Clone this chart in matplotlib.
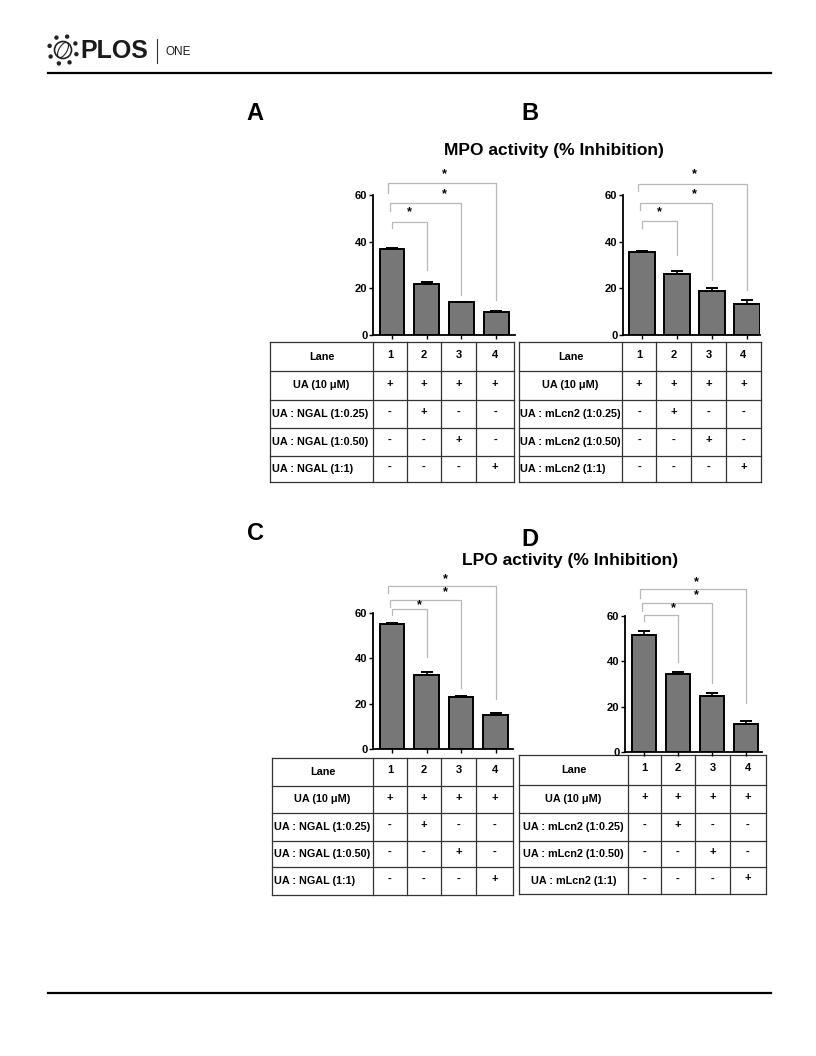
import numpy as np
import matplotlib
matplotlib.use('Agg')
import matplotlib.pyplot as plt
from matplotlib.patches import Circle, Ellipse

plt.rcParams['font.family'] = ['Liberation Sans', 'DejaVu Sans']

# ---- data ----
lanes = [1, 2, 3, 4]
mpo_ngal = [37.0, 22.0, 14.0, 10.0]
mpo_ngal_err = [0.5, 0.7, 0.3, 0.5]
mpo_mlcn2 = [35.5, 26.0, 19.0, 13.5]
mpo_mlcn2_err = [0.7, 1.3, 1.0, 1.3]
lpo_ngal = [55.0, 32.5, 23.0, 15.0]
lpo_ngal_err = [0.5, 1.3, 0.5, 1.0]
lpo_mlcn2 = [51.5, 34.5, 24.5, 12.5]
lpo_mlcn2_err = [2.0, 1.0, 1.5, 1.3]

# brackets: (lane to, top, left leg bottom, right leg bottom, star height, star x)
brk_a = [(2, 48.4, 46, 28, 52.7, 1.5), (3, 56.6, 53, 17, 60.4, 2.5), (4, 65, 61, 15, 69, 2.5)]
brk_b = [(2, 48.9, 46, 34.3, 52.7, 1.5), (3, 56.6, 53.6, 23.6, 60.4, 2.5), (4, 64.7, 61.7, 19.3, 69, 2.5)]
brk_c = [(2, 61.8, 59, 40.6, 63.5, 1.8), (3, 65.7, 62.6, 27, 69.3, 2.55), (4, 71.9, 69, 22, 75, 2.55)]
brk_d = [(2, 60.4, 58, 39.7, 63.5, 1.85), (3, 65.7, 62.4, 30.4, 69.3, 2.55), (4, 71.9, 68, 21.6, 75, 2.55)]

lane_row = ['1', '2', '3', '4']
ua_row = ['+', '+', '+', '+']
r025 = ['-', '+', '-', '-']
r050 = ['-', '-', '+', '-']
r1 = ['-', '-', '-', '+']
labels_ngal = ['Lane', 'UA (10 \u03bcM)', 'UA : NGAL (1:0.25)', 'UA : NGAL (1:0.50)', 'UA : NGAL (1:1)']
labels_mlcn2 = ['Lane', 'UA (10 \u03bcM)', 'UA : mLcn2 (1:0.25)', 'UA : mLcn2 (1:0.50)', 'UA : mLcn2 (1:1)']

W, H = 816, 1056
fig = plt.figure(figsize=(W / 100, H / 100), dpi=100)
ov = fig.add_axes([0, 0, 1, 1])
ov.set_xlim(0, W)
ov.set_ylim(H, 0)
ov.axis('off')

# ---- header / footer ----
ov.plot([48, 771], [73, 73], color='black', lw=1.6)
ov.plot([48, 771], [993, 993], color='black', lw=1.6)
ov.add_patch(Circle((63, 50), 8.5, fill=False, ec='#222222', lw=1.2))
ov.add_patch(Ellipse((63, 50), 8, 17, angle=30, fill=False, ec='#222222', lw=0.8))
for a in np.linspace(0, 2 * np.pi, 9)[:-1]:
    ov.add_patch(Circle((63 + 14 * np.cos(a + 0.3), 50 + 14 * np.sin(a + 0.3)), 1.5, color='#222222'))
ov.text(80, 51, 'PLOS', fontsize=18, fontweight='bold', va='center', ha='left', color='#1a1a1a')
ov.plot([157, 157], [39, 63], color='#333333', lw=0.8)
ov.text(165, 52, 'ONE', fontsize=8.5, va='center', ha='left', color='#1a1a1a')

# ---- panel labels and titles ----
for lab, x, y in [('A', 255, 113), ('B', 530, 113), ('C', 255, 533), ('D', 530, 540)]:
    ov.text(x, y, lab, fontsize=17, fontweight='bold', ha='center', va='center')
ov.text(554, 151, 'MPO activity (% Inhibition)', fontsize=12.5, fontweight='bold', ha='center', va='center')
ov.text(570, 560, 'LPO activity (% Inhibition)', fontsize=12.5, fontweight='bold', ha='center', va='center')


def bar_panel(left, tick1, sp, right, y0, y60, vals, errs, brks):
    ax = fig.add_axes([left / W, 1 - y0 / H, (right - left) / W, (y0 - y60) / H])
    ax.set_facecolor('none')
    ax.bar(lanes, vals, width=0.72, color='#777777', edgecolor='black', linewidth=1.4, zorder=2)
    ax.errorbar(lanes, vals, yerr=[np.zeros(4), errs], fmt='none', ecolor='black',
                elinewidth=1.2, capsize=4, capthick=1.4, zorder=3)
    ax.set_xlim(1 - (tick1 - left) / sp, 1 + (right - tick1) / sp)
    ax.set_ylim(0, 60)
    ax.set_yticks([0, 20, 40, 60])
    ax.set_xticks(lanes)
    ax.set_xticklabels([])
    for s in ['top', 'right']:
        ax.spines[s].set_visible(False)
    for s in ['left', 'bottom']:
        ax.spines[s].set_linewidth(1.3)
    ax.tick_params(length=3, width=1, pad=1, labelsize=8)
    for t in ax.get_yticklabels():
        t.set_fontweight('bold')
    for k, (to, top, lb, rb, sy, sx) in enumerate(brks):
        xl = 1 - 0.06 * k
        ax.plot([xl, xl, to, to], [lb, top, top, rb], color='#b8b8b8', lw=0.9,
                clip_on=False, zorder=1)
        ax.text(sx, sy, '*', fontsize=9, fontweight='bold', ha='center', va='center', clip_on=False)
    return ax


bar_panel(373, 392, 34.7, 515, 335, 195, mpo_ngal, mpo_ngal_err, brk_a)
bar_panel(623, 642, 35.0, 760, 335, 195, mpo_mlcn2, mpo_mlcn2_err, brk_b)
bar_panel(373, 392, 34.5, 513, 749, 613, lpo_ngal, lpo_ngal_err, brk_c)
bar_panel(625, 644, 34.0, 762, 752, 616, lpo_mlcn2, lpo_mlcn2_err, brk_d)


def table(cols, rows, labels, center_all=False):
    rows_data = [lane_row, ua_row, r025, r050, r1]
    for x in cols:
        ov.plot([x, x], [rows[0], rows[-1]], color='#333333', lw=0.9)
    for y in rows:
        ov.plot([cols[0], cols[-1]], [y, y], color='#333333', lw=0.9)
    for i in range(5):
        yc = (rows[i] + rows[i + 1]) / 2
        if i < 2 or center_all:
            ov.text((cols[0] + cols[1]) / 2, yc, labels[i], fontsize=7.8, fontweight='bold',
                    ha='center', va='center')
        else:
            ov.text(cols[0] + 1.5, yc, labels[i], fontsize=7.8, fontweight='bold',
                    ha='left', va='center')
        for j in range(4):
            ov.text((cols[j + 1] + cols[j + 2]) / 2, yc - 2, rows_data[i][j], fontsize=8,
                    fontweight='bold', ha='center', va='center')


table([270, 373, 407, 441, 476, 514], [342, 371, 400, 428, 456, 482], labels_ngal)
table([519, 622, 656, 691, 726, 761], [342, 371, 400, 428, 456, 482], labels_mlcn2)
table([272, 373, 407, 441, 476, 513], [758, 786, 813, 841, 867, 895], labels_ngal)
table([519, 628, 661, 695, 730, 766], [755, 785, 813, 841, 867, 894], labels_mlcn2, center_all=True)

fig.savefig('out.png', dpi=100)
